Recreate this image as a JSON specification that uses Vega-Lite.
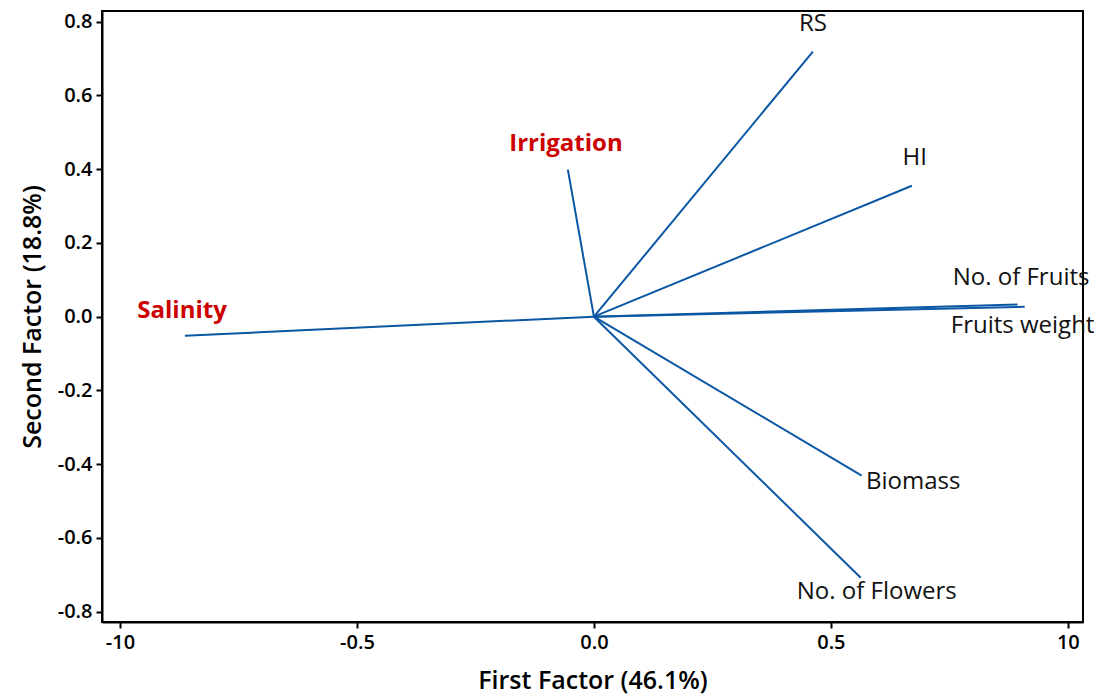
{
  "$schema": "https://vega.github.io/schema/vega-lite/v6.json",
  "autosize": "none",
  "width": 981,
  "height": 611,
  "padding": {"left": 102, "top": 11, "right": 22, "bottom": 78},
  "background": "white",
  "config": {
    "font": "Open Sans",
    "view": {"stroke": "black", "strokeWidth": 2},
    "axis": {
      "grid": false,
      "domainColor": "black",
      "domainWidth": 2,
      "tickColor": "black",
      "tickWidth": 2,
      "tickSize": 6,
      "labelFont": "Open Sans",
      "labelFontSize": 20,
      "labelFontWeight": 600,
      "labelColor": "black",
      "titleFont": "Open Sans",
      "titleFontSize": 25,
      "titleFontWeight": 600,
      "titleColor": "black"
    }
  },
  "datasets": {
    "vectors": [
      {"variable": "RS", "type": "trait", "x": 0.462, "y": 0.719},
      {"variable": "HI", "type": "trait", "x": 0.671, "y": 0.355},
      {"variable": "Irrigation", "type": "factor", "x": -0.055, "y": 0.399},
      {"variable": "Salinity", "type": "factor", "x": -0.863, "y": -0.052},
      {"variable": "No. of Fruits", "type": "trait", "x": 0.894, "y": 0.033},
      {"variable": "Fruits weight", "type": "trait", "x": 0.909, "y": 0.027},
      {"variable": "Biomass", "type": "trait", "x": 0.565, "y": -0.431},
      {"variable": "No. of Flowers", "type": "trait", "x": 0.563, "y": -0.708}
    ],
    "labels": [
      {"variable": "RS", "group": "center", "lx": 0.462, "ly": 0.795},
      {"variable": "HI", "group": "center", "lx": 0.677, "ly": 0.431},
      {"variable": "Irrigation", "group": "factor", "lx": -0.059, "ly": 0.469},
      {"variable": "Salinity", "group": "factor", "lx": -0.869, "ly": 0.016},
      {"variable": "No. of Fruits", "group": "left", "lx": 0.757, "ly": 0.106},
      {"variable": "Fruits weight", "group": "left", "lx": 0.753, "ly": -0.024},
      {"variable": "Biomass", "group": "left", "lx": 0.574, "ly": -0.448},
      {"variable": "No. of Flowers", "group": "left", "lx": 0.428, "ly": -0.746}
    ]
  },
  "layer": [
    {
      "data": {"name": "vectors"},
      "mark": {"type": "rule", "color": "#0b57a4", "strokeWidth": 2},
      "encoding": {
        "x": {
          "field": "x", "type": "quantitative",
          "scale": {"domain": [-1.038, 1.032], "nice": false, "zero": false},
          "axis": {
            "title": "First Factor (46.1%)",
            "values": [-1, -0.5, 0, 0.5, 1],
            "labelExpr": "datum.value == -1 ? '-10' : datum.value == 1 ? '10' : (datum.value < 0 ? '-' : '') + format(abs(datum.value), '.1f')",
            "titlePadding": 16,
            "labelPadding": 4
          }
        },
        "y": {
          "field": "y", "type": "quantitative",
          "scale": {"domain": [-0.828, 0.829], "nice": false, "zero": false},
          "axis": {
            "title": "Second Factor (18.8%)",
            "values": [-0.8, -0.6, -0.4, -0.2, 0, 0.2, 0.4, 0.6, 0.8],
            "labelExpr": "(datum.value < 0 ? '-' : '') + format(abs(datum.value), '.1f')",
            "titlePadding": 12,
            "labelPadding": 4
          }
        },
        "x2": {"datum": 0},
        "y2": {"datum": 0}
      }
    },
    {
      "data": {"name": "labels"},
      "transform": [{"filter": "datum.group == 'center'"}],
      "mark": {"type": "text", "fontSize": 24, "color": "#111111", "align": "center", "baseline": "middle", "font": "Open Sans"},
      "encoding": {
        "x": {"field": "lx", "type": "quantitative"},
        "y": {"field": "ly", "type": "quantitative"},
        "text": {"field": "variable"}
      }
    },
    {
      "data": {"name": "labels"},
      "transform": [{"filter": "datum.group == 'left'"}],
      "mark": {"type": "text", "fontSize": 24, "color": "#111111", "align": "left", "baseline": "middle", "font": "Open Sans"},
      "encoding": {
        "x": {"field": "lx", "type": "quantitative"},
        "y": {"field": "ly", "type": "quantitative"},
        "text": {"field": "variable"}
      }
    },
    {
      "data": {"name": "labels"},
      "transform": [{"filter": "datum.group == 'factor'"}],
      "mark": {"type": "text", "fontSize": 24, "fontWeight": "bold", "color": "#cc0000", "align": "center", "baseline": "middle", "font": "Open Sans"},
      "encoding": {
        "x": {"field": "lx", "type": "quantitative"},
        "y": {"field": "ly", "type": "quantitative"},
        "text": {"field": "variable"}
      }
    }
  ]
}
